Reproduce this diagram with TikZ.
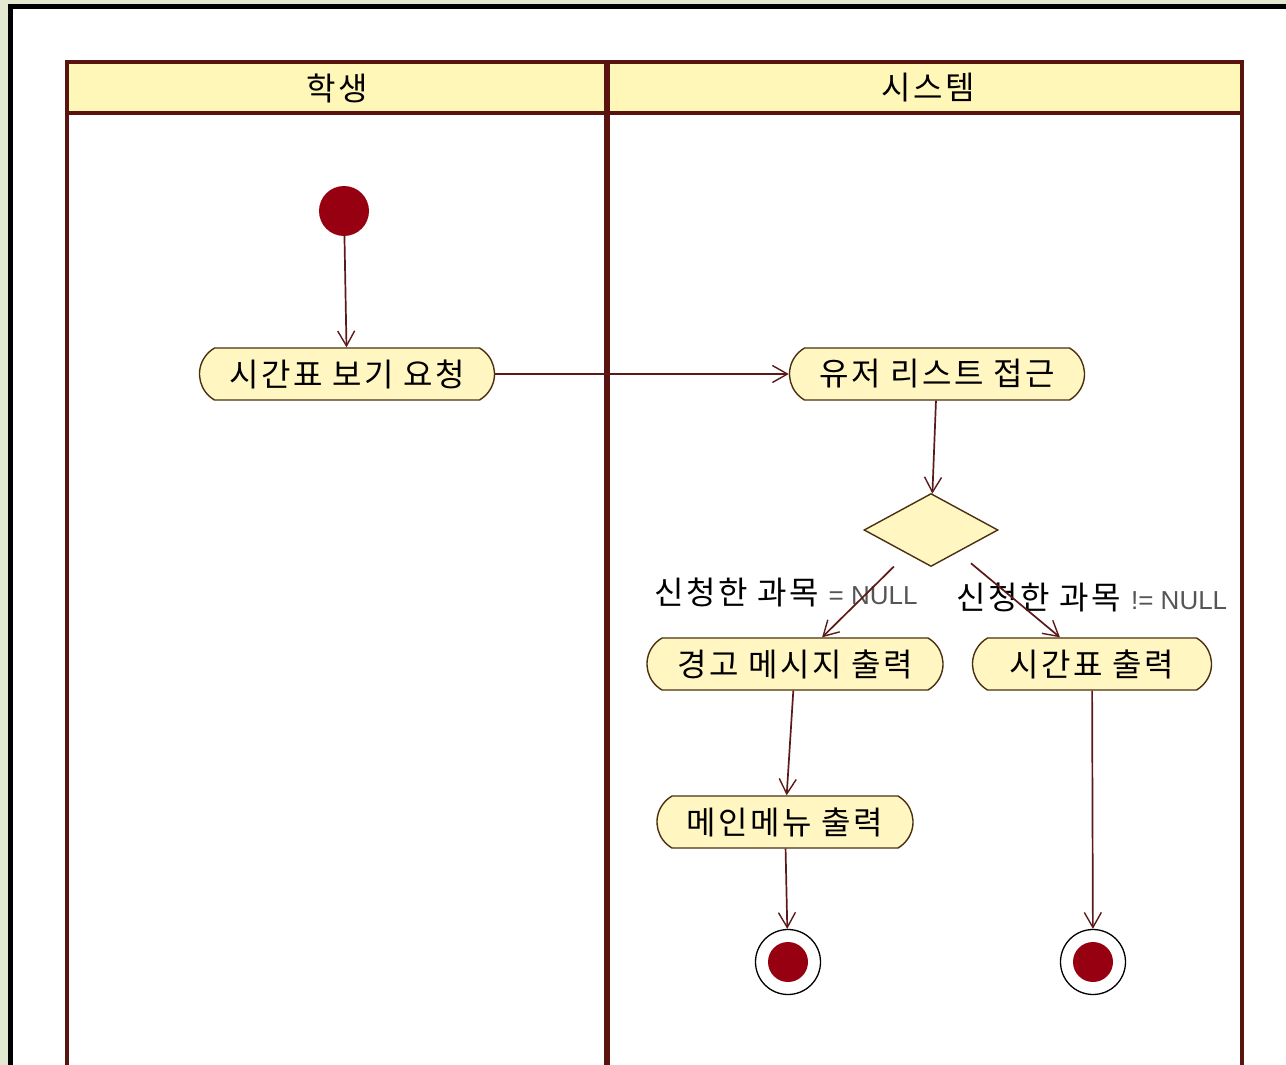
\documentclass[tikz,border=0pt]{standalone}
\usepackage{fontspec}
\newfontfamily\kr[LetterSpace=8]{Noto Sans CJK KR}
\newfontfamily\lat{Liberation Sans}
\usetikzlibrary{shapes.misc,shapes.geometric,arrows.meta}
\definecolor{bggreen}{HTML}{E2E9D0}
\definecolor{lanecol}{HTML}{5A1410}
\definecolor{hdrfill}{HTML}{FFF7B8}
\definecolor{actfill}{HTML}{FFF6C2}
\definecolor{actdraw}{HTML}{4A3010}
\definecolor{edgecol}{HTML}{5A1A1A}
\definecolor{dotred}{HTML}{960010}
\definecolor{nullgrey}{HTML}{555555}
\newcommand\nulltxt[1]{{\color{nullgrey}\lat\fontsize{26}{28}\selectfont #1}}
\tikzset{
  krtext/.style={font=\kr\fontsize{32}{34}\selectfont},
  act/.style={rounded rectangle, rounded rectangle arc length=120, draw=actdraw, line width=1.4pt,
    fill=actfill, minimum height=52pt, inner sep=0pt, krtext},
  flow/.style={draw=edgecol, line width=1.7pt, -{Straight Barb[length=15pt,width=17pt,line width=1.4pt]}},
  initnode/.style={circle, fill=dotred, inner sep=0pt, minimum size=50pt},
  finalnode/.style={circle, draw=black, line width=1.3pt, fill=white, inner sep=0pt, minimum size=65pt,
    path picture={\fill[dotred] (path picture bounding box.center) circle (20pt);}},
  decision/.style={diamond, draw=actdraw, line width=1.4pt, fill=actfill, inner sep=0pt,
    minimum width=134pt, minimum height=73pt},
  guard/.style={krtext, inner sep=0pt}
}
\begin{document}
\begin{tikzpicture}[x=1pt,y=-1pt]
\useasboundingbox (0,0) rectangle (1286,1065);
\fill[bggreen] (0,0) rectangle (1286,1065);
\fill[white] (10.5,6.5) rectangle (1286,1065);
\draw[black, line width=5pt] (10.5,1065) -- (10.5,6.5) -- (1286,6.5);
% swimlanes
\fill[hdrfill] (67,62) rectangle (1242,113);
\draw[lanecol, line width=4pt] (67,1065) -- (67,62) -- (1242,62) -- (1242,1065);
\draw[lanecol, line width=4pt] (67,113) -- (1242,113);
\draw[lanecol, line width=6pt] (607,62) -- (607,1065);
\node[krtext] (h1) at (337,88) {학생};
\node[krtext] (h2) at (928,88) {시스템};
% nodes
\node[initnode] (init) at (344,211) {};
\node[act, minimum width=295pt] (req) at (347,374) {시간표 보기 요청};
\node[act, minimum width=295pt] (user) at (937,374) {유저 리스트 접근};
\node[decision] (dec) at (931,530) {};
\node[act, minimum width=296pt] (warn) at (795,664) {경고 메시지 출력};
\node[act, minimum width=239pt] (tt) at (1092,664) {시간표 출력};
\node[act, minimum width=256pt] (menu) at (785,822) {메인메뉴 출력};
\node[finalnode] (f1) at (788,962) {};
\node[finalnode] (f2) at (1093,962) {};
% guards
\node[guard] (g1) at (786,592) {신청한 과목 \nulltxt{= NULL}};
\node[guard] (g2) at (1092,597) {신청한 과목 \nulltxt{!= NULL}};
% flows
\draw[flow] (init) -- (req);
\draw[flow] (req) -- (user);
\draw[flow] (user) -- (dec);
\draw[flow, shorten <=52pt] (dec.center) -- (warn);
\draw[flow, shorten <=52pt] (dec.center) -- (tt);
\draw[flow] (warn) -- (menu);
\draw[flow] (menu) -- (f1);
\draw[flow] (tt) -- (f2);
\end{tikzpicture}
\end{document}
